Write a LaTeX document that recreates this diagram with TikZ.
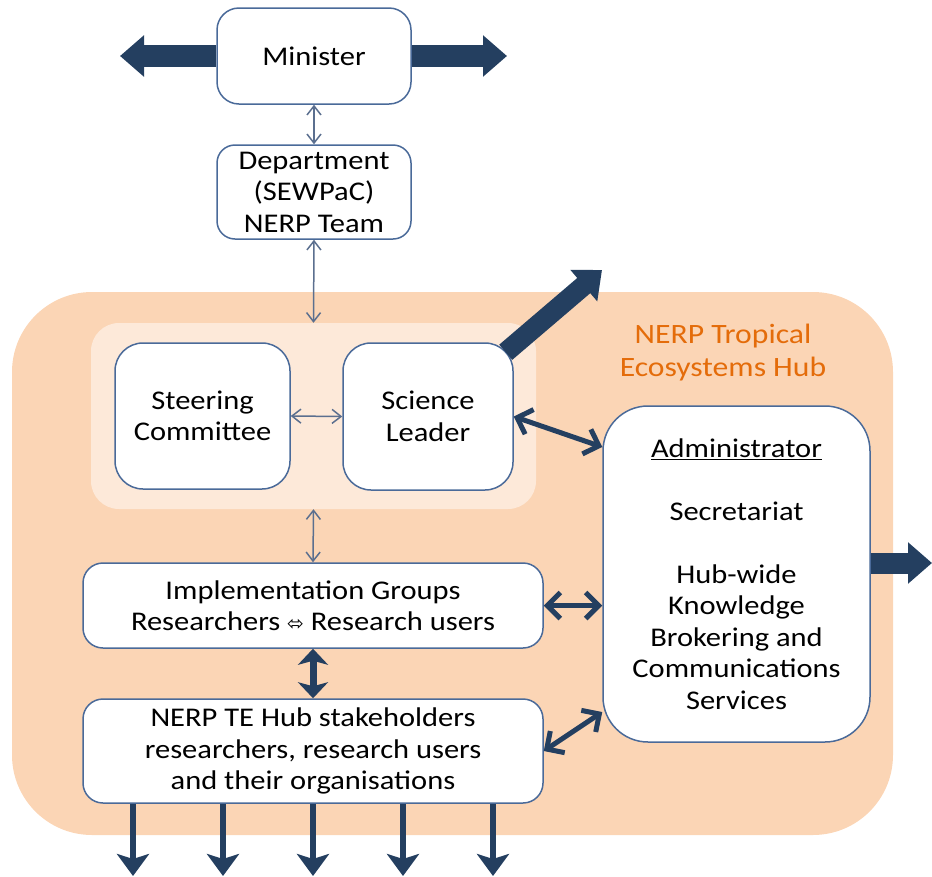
\documentclass[tikz,border=0pt]{standalone}
\usepackage{fontspec}
\setmainfont{Carlito}[FakeStretch=1.13]
\newfontfamily\dejavu{DejaVu Sans}
\usepackage{tikz}
\usetikzlibrary{arrows.meta}
\definecolor{navy}{HTML}{243F60}
\definecolor{boxline}{HTML}{4A6A99}
\definecolor{thinline}{HTML}{5B6F8F}
\definecolor{hubfill}{HTML}{FBD5B5}
\definecolor{groupfill}{HTML}{FDE9D9}
\definecolor{huborange}{HTML}{E46C0A}
\tikzset{box/.style={draw=boxline, line width=1.5pt, fill=white, rounded corners=22pt, align=center, inner sep=0pt}}
\tikzset{thinlink/.style={{Straight Barb[length=9pt,width=14pt]}-{Straight Barb[length=9pt,width=14pt]}, draw=thinline, line width=1.5pt}}
\tikzset{midlink/.style={{Straight Barb[length=13pt,width=26pt]}-{Straight Barb[length=13pt,width=26pt]}, draw=navy, line width=5pt}}
\tikzset{biglink/.style={{Stealth[length=16pt,width=30pt,inset=4pt]}-{Stealth[length=16pt,width=30pt,inset=4pt]}, draw=navy, line width=7pt}}
\tikzset{bigarrow/.style={-{Triangle[length=24pt,width=40pt]}, draw=navy, line width=22pt}}
\tikzset{downarrow/.style={-{Stealth[length=22pt,width=32pt,inset=5pt]}, draw=navy, line width=6pt}}

\begin{document}
\begin{tikzpicture}[x=1pt, y=-1pt, font=\fontsize{27}{31.5}\selectfont]
    \useasboundingbox (0,0) rectangle (932,876);

    \node[fill=hubfill, rounded corners=80pt, minimum width=881pt, minimum height=543pt, inner sep=0pt] at (452.5,563.5) (hub){};
    \node[text=huborange, align=center, font=\fontsize{28}{33}\selectfont] at (723,353) (hubname){NERP Tropical\\Ecosystems Hub};

    \node[box, minimum width=194pt, minimum height=96pt] at (314,56) (minister){Minister};
    \node[box, minimum width=194pt, minimum height=94pt, rounded corners=18pt] at (314,192) (dept){Department\\(SEWPaC)\\NERP Team};

    \node[fill=groupfill, rounded corners=28pt, minimum width=445pt, minimum height=186pt, inner sep=0pt] at (313.5,416) (group){};
    \node[box, minimum width=175pt, minimum height=146pt, rounded corners=28pt] at (202.5,416) (steer){Steering\\Committee};
    \node[box, minimum width=170pt, minimum height=147pt, rounded corners=28pt] at (428,416.5) (leader){Science\\Leader};

    \node[box, minimum width=267pt, minimum height=336pt, rounded corners=45pt] at (736.5,574) (admin){\underline{Administrator}\\[31.5pt]Secretariat\\[31.5pt]Hub-wide\\Knowledge\\Brokering and\\Communications\\Services};

    \node[box, minimum width=460pt, minimum height=85pt, rounded corners=20pt] at (313,605.5) (impl){Implementation Groups\\Researchers {\dejavu\fontsize{20}{20}\selectfont ⬄} Research users};
    \node[box, minimum width=460pt, minimum height=104pt, rounded corners=20pt] at (313,751) (stake){NERP TE Hub stakeholders\\researchers, research users\\and their organisations};

    \coordinate (ministerL) at (120,56);
    \coordinate (ministerR) at (507,56);
    \coordinate (leaderout) at (602,270);
    \coordinate (adminout) at (932,563);

    \draw [bigarrow] (minister.west) -- (ministerL);
    \draw [bigarrow] (minister.east) -- (ministerR);
    \draw [bigarrow, line width=20pt] ([xshift=-8pt,yshift=-10pt]leader.north east) -- (leaderout);
    \draw [bigarrow, line width=21pt] ([yshift=11pt]admin.east) -- (adminout);

    \draw [thinlink] (minister.south) -- (dept.north);
    \draw [thinlink] (dept.south) -- (group.north);
    \draw [thinlink] (steer.east) -- (leader.west);
    \draw [thinlink] (group.south) -- (impl.north);

    \draw [midlink] (leader.east) -- ([yshift=127pt]admin.west);
    \draw [midlink] (impl.east) -- (impl.east -| admin.west);
    \draw [midlink] (stake.east) -- ([yshift=-138pt]admin.west);
    \draw [biglink] (impl.south) -- (stake.north);

    \foreach \dx [count=\i] in {-180,-90,0,90,180} {
        \coordinate (out\i) at (313+\dx,876);
        \draw [downarrow] (stake.south -| out\i) -- (out\i);
    }
\end{tikzpicture}
\end{document}
